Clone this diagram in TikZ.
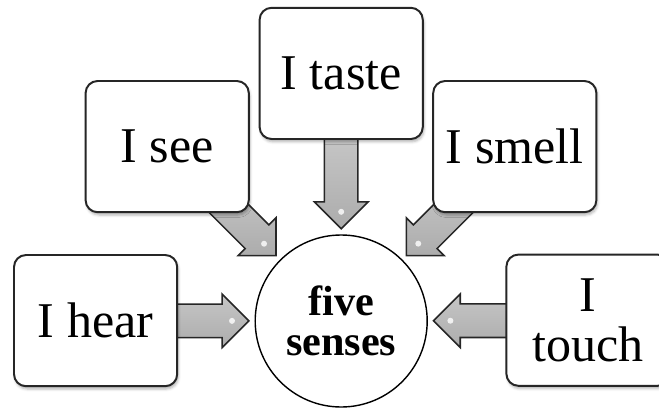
\documentclass[tikz,border=0pt]{standalone}
\usepackage{fontspec}
\setmainfont{Liberation Serif}
\usetikzlibrary{shapes.arrows, shadows.blur, calc, backgrounds}

\begin{document}
\begin{tikzpicture}[
    sense/.style={draw=black!85, line width=1.4pt, fill=white, rounded corners=0.3cm,
      minimum width=4.08cm, minimum height=3.28cm, inner sep=0pt, align=center,
      font=\fontsize{35.6}{35.6}\selectfont,
      blur shadow={shadow xshift=0.03cm, shadow yshift=-0.07cm, shadow opacity=30}},
    centre/.style={circle, draw=black, line width=1pt, fill=white, minimum size=4.3cm,
      inner sep=0pt, align=center, font=\fontsize{30}{28.5}\selectfont\bfseries},
    sensearrow/.style={single arrow, draw=black!85, line width=1.1pt, inner xsep=0pt,
      inner ysep=0.4cm, minimum width=1.3cm, single arrow head extend=0.25cm, anchor=tip,
      top color=gray!45, middle color=gray!22, bottom color=gray!65},
    glint/.style={fill=white, opacity=0.8}
  ]
  \useasboundingbox (0, 0) rectangle (16.475, 10.175);
  % 中心圆
  \node[centre] (five) at (8.53, 2.15) {five\\senses};
  % 五个方框
  \node[sense] (hear) at (2.39, 2.16) {I hear};
  \node[sense] (see) at (4.18, 6.51) {I see};
  \node[sense] (taste) at (8.53, 8.34) {I taste};
  \node[sense] (smell) at (12.87, 6.51) {I smell};
  \node[sense] (touch) at (14.70, 2.17) {I\\touch};
  % 箭头
  \begin{scope}[on background layer]
    \node[sensearrow, minimum height=1.9cm] (hearArrow) at ($(five)!2.28cm!(hear)$) {};
    \node[sensearrow, minimum height=2.1cm, rotate=-45] (seeArrow) at ($(five)!2.28cm!(see)$) {};
    \node[sensearrow, minimum height=2.3cm, rotate=-90] (tasteArrow) at ($(five)!2.28cm!(taste)$) {};
    \node[sensearrow, minimum height=2.1cm, rotate=-135] (smellArrow) at ($(five)!2.28cm!(smell)$) {};
    \node[sensearrow, minimum height=1.95cm, rotate=180] (touchArrow) at ($(five)!2.28cm!(touch)$) {};
    % 高光
    \foreach \a in {hearArrow, seeArrow, tasteArrow, smellArrow, touchArrow}
      \fill[glint] ($(\a.tip)!0.45cm!(\a.tail)$) circle (0.075cm);
  \end{scope}
\end{tikzpicture}
\end{document}
